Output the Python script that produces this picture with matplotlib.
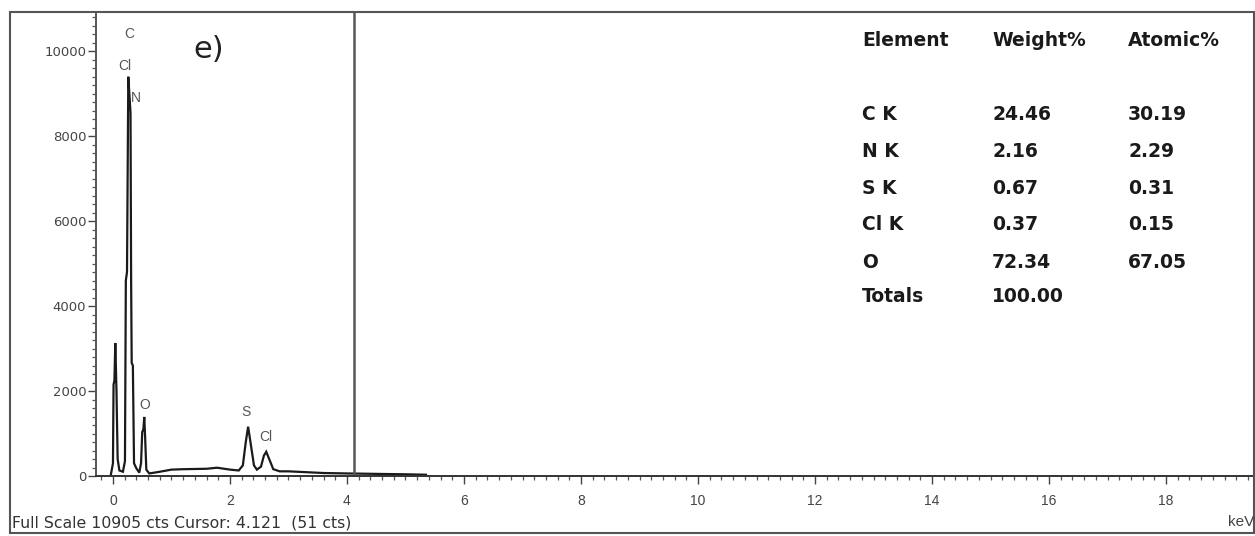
import matplotlib
matplotlib.use("Agg")
import matplotlib.pyplot as plt
from matplotlib.patches import Rectangle
from matplotlib.ticker import MultipleLocator

# Spectrum (keV, counts)
energy_kev = [-0.04, 0.0, 0.01, 0.025, 0.04, 0.06, 0.08, 0.11, 0.17, 0.205, 0.22, 0.24,
              0.262, 0.28, 0.30, 0.31, 0.32, 0.34, 0.36, 0.40, 0.45, 0.48, 0.50, 0.52,
              0.535, 0.55, 0.57, 0.62, 0.8, 1.0, 1.2, 1.4, 1.6, 1.78, 2.0, 2.15, 2.22,
              2.27, 2.31, 2.35, 2.41, 2.46, 2.53, 2.58, 2.62, 2.67, 2.74, 2.85, 3.0,
              3.3, 3.6, 4.0, 4.5, 5.0, 5.35]
counts = [0, 300, 2150, 2250, 3130, 2000, 400, 130, 100, 350, 4600, 4800,
          9395, 9000, 8540, 4700, 2660, 2600, 300, 180, 80, 300, 1035, 1100,
          1390, 900, 150, 60, 100, 150, 160, 165, 170, 195, 150, 130, 250,
          800, 1160, 800, 250, 150, 220, 480, 570, 400, 160, 110, 110,
          90, 70, 60, 50, 40, 30]

peak_labels = ["C", "Cl", "N", "O", "S", "Cl"]
peak_label_x = [0.27, 0.20, 0.40, 0.55, 2.27, 2.62]
peak_label_y = [10400, 9650, 8900, 1670, 1500, 920]

table_header = ["Element", "Weight%", "Atomic%"]
elements = ["C K", "N K", "S K", "Cl K", "O", "Totals"]
weight_pct = ["24.46", "2.16", "0.67", "0.37", "72.34", "100.00"]
atomic_pct = ["30.19", "2.29", "0.31", "0.15", "67.05", ""]

cursor_kev = 4.121
full_scale = 10905

W, H = 1255, 536
fig = plt.figure(figsize=(W / 100, H / 100), dpi=100)

def fx(px):
    return px / W

def fy(py):
    return 1 - py / H

ax = fig.add_axes([fx(96), fy(476), fx(1255) - fx(96), fy(12) - fy(476)])
ax.plot(energy_kev, counts, color="#1a1a1a", lw=1.6, solid_joinstyle="miter")
ax.axvline(cursor_kev, color="#555555", lw=1.8)
ax.set_xlim(-0.29, 19.52)
ax.set_ylim(0, 10918)

for s in ["top", "right"]:
    ax.spines[s].set_visible(False)
ax.spines["left"].set_color("#555555")
ax.spines["left"].set_linewidth(1.4)
ax.spines["bottom"].set_color("#333333")
ax.spines["bottom"].set_linewidth(1.4)

ax.xaxis.set_major_locator(MultipleLocator(2))
ax.xaxis.set_minor_locator(MultipleLocator(0.2))
ax.yaxis.set_major_locator(MultipleLocator(2000))
ax.yaxis.set_minor_locator(MultipleLocator(200))
ax.tick_params(axis="both", which="major", direction="out", length=6, width=1.0,
               color="#444444", labelcolor="#444444")
ax.tick_params(axis="both", which="minor", direction="out", length=3, width=0.9,
               color="#555555")
ax.tick_params(axis="y", pad=1, labelsize=9.5)
ax.tick_params(axis="x", pad=7, labelsize=10)
for lab in ax.get_xticklabels():
    lab.set_fontfamily("Liberation Sans")
for lab in ax.get_yticklabels():
    lab.set_fontfamily("DejaVu Sans")

for t, x, y in zip(peak_labels, peak_label_x, peak_label_y):
    ax.text(x, y, t, ha="center", va="center", fontsize=10, color="#555555",
            family="Liberation Sans")

fig.text(fx(193), fy(50), "e)", fontsize=22, color="#222222", family="DejaVu Sans",
         ha="left", va="center")

# outer frame
fig.patches.append(Rectangle((fx(10), fy(533)), fx(1254) - fx(10), fy(12) - fy(533),
                             transform=fig.transFigure, fill=False,
                             edgecolor="#555555", lw=1.5))

fig.text(fx(12), fy(523), f"Full Scale {full_scale} cts Cursor: {cursor_kev}  (51 cts)",
         fontsize=11.3, color="#333333", family="DejaVu Sans", ha="left", va="center")
fig.text(fx(1254), fy(522), "keV", fontsize=11, color="#444444", family="Liberation Sans",
         ha="right", va="center")

# table
col_x = [862, 992, 1128]
header_y = 41
row_y = [115, 152, 188, 225, 262, 297]
tfont = dict(fontsize=13.5, color="#1a1a1a", family="DejaVu Sans", fontweight="bold",
             ha="left", va="center")
for h, x in zip(table_header, col_x):
    fig.text(fx(x), fy(header_y), h, **tfont)
for i, y in enumerate(row_y):
    fig.text(fx(col_x[0]), fy(y), elements[i], **tfont)
    fig.text(fx(col_x[1]), fy(y), weight_pct[i], **tfont)
    if atomic_pct[i]:
        fig.text(fx(col_x[2]), fy(y), atomic_pct[i], **tfont)

fig.savefig("out.png", dpi=100)
